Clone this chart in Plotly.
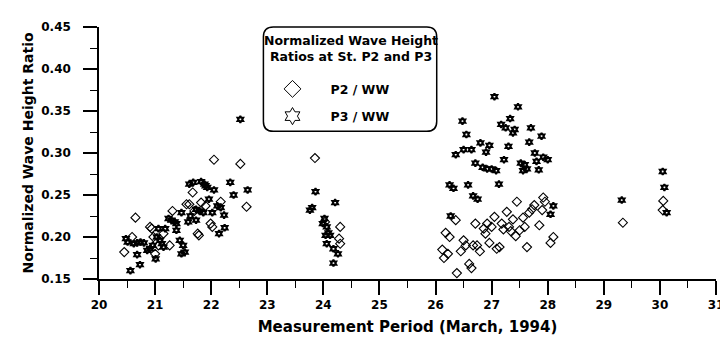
import plotly.graph_objects as go

# P2 / WW (open diamonds)
p2_day = [20.45, 20.59, 20.65, 20.91, 20.94, 20.97, 21.00, 21.06, 21.15, 21.26, 21.31, 21.56,
          21.61, 21.67, 21.70, 21.76, 21.78, 21.82, 21.90, 21.99, 22.02, 22.05, 22.17, 22.52, 22.63,
          23.85, 24.03, 24.28, 24.30, 24.30,
          26.12, 26.15, 26.18, 26.22, 26.25, 26.36, 26.38, 26.45, 26.50, 26.54, 26.60, 26.64,
          26.67, 26.71, 26.74, 26.79, 26.86, 26.89, 26.92, 26.96, 27.00, 27.05, 27.09, 27.14,
          27.18, 27.21, 27.27, 27.31, 27.34, 27.38, 27.43, 27.45, 27.50, 27.56, 27.59, 27.63,
          27.67, 27.72, 27.76, 27.85, 27.90, 27.92, 27.95, 28.05, 28.10,
          29.34, 30.05, 30.06]
p2_val = [0.182, 0.200, 0.223, 0.212, 0.210, 0.200, 0.180, 0.190, 0.204, 0.190, 0.231, 0.239,
          0.239, 0.253, 0.231, 0.204, 0.202, 0.241, 0.237, 0.216, 0.212, 0.292, 0.242, 0.287, 0.236,
          0.294, 0.218, 0.198, 0.212, 0.192,
          0.185, 0.175, 0.205, 0.180, 0.200, 0.220, 0.157, 0.183, 0.196, 0.190, 0.168, 0.163,
          0.190, 0.216, 0.190, 0.183, 0.210, 0.204, 0.216, 0.193, 0.212, 0.224, 0.186, 0.188,
          0.216, 0.209, 0.230, 0.212, 0.207, 0.221, 0.201, 0.242, 0.208, 0.223, 0.212, 0.188,
          0.229, 0.233, 0.238, 0.214, 0.232, 0.247, 0.242, 0.193, 0.200,
          0.217, 0.232, 0.243]

# P3 / WW (open stars)
p3_day = [20.48, 20.51, 20.56, 20.62, 20.68, 20.68, 20.73, 20.74, 20.80, 20.86, 20.91, 20.96,
          21.01, 21.03, 21.06, 21.09, 21.12, 21.15, 21.18, 21.24, 21.29, 21.35, 21.38, 21.38,
          21.44, 21.47, 21.47, 21.50, 21.53, 21.59, 21.61, 21.63, 21.68, 21.73, 21.73, 21.79,
          21.82, 21.86, 21.88, 21.90, 21.93, 21.96, 22.02, 22.05, 22.11, 22.14, 22.17, 22.23,
          22.24, 22.34, 22.40, 22.52, 22.65,
          23.76, 23.80, 23.86, 23.99, 24.02, 24.04, 24.06, 24.06, 24.09, 24.12, 24.18, 24.18,
          24.21, 24.26,
          26.25, 26.27, 26.32, 26.36, 26.48, 26.50, 26.55, 26.58, 26.64, 26.67, 26.71, 26.75,
          26.80, 26.84, 26.90, 26.92, 26.96, 27.00, 27.05, 27.08, 27.13, 27.17, 27.22, 27.25,
          27.30, 27.33, 27.38, 27.41, 27.47, 27.52, 27.56, 27.59, 27.63, 27.67, 27.70, 27.77,
          27.80, 27.84, 27.89, 27.92, 28.00, 28.05, 28.10,
          29.32, 30.05, 30.08, 30.12]
p3_val = [0.198, 0.194, 0.160, 0.192, 0.179, 0.193, 0.167, 0.194, 0.193, 0.184, 0.186, 0.190,
          0.174, 0.200, 0.210, 0.196, 0.192, 0.188, 0.210, 0.222, 0.220, 0.218, 0.216, 0.208,
          0.196, 0.180, 0.229, 0.190, 0.182, 0.218, 0.263, 0.225, 0.265, 0.233, 0.220, 0.231,
          0.266, 0.229, 0.263, 0.261, 0.259, 0.245, 0.229, 0.256, 0.237, 0.204, 0.235, 0.226,
          0.211, 0.265, 0.250, 0.340, 0.256,
          0.232, 0.235, 0.254, 0.216, 0.222, 0.202, 0.212, 0.192, 0.205, 0.202, 0.186, 0.169,
          0.241, 0.180,
          0.262, 0.225, 0.258, 0.298, 0.338, 0.304, 0.322, 0.262, 0.304, 0.249, 0.288, 0.245,
          0.312, 0.283, 0.301, 0.281, 0.309, 0.281, 0.367, 0.279, 0.263, 0.334, 0.292, 0.330,
          0.308, 0.341, 0.324, 0.328, 0.355, 0.288, 0.279, 0.286, 0.281, 0.313, 0.330, 0.300,
          0.290, 0.280, 0.320, 0.295, 0.292, 0.227, 0.237,
          0.244, 0.278, 0.259, 0.229]

x_ticks = [20, 21, 22, 23, 24, 25, 26, 27, 28, 29, 30, 31]
y_ticks = [0.15, 0.20, 0.25, 0.30, 0.35, 0.40, 0.45]
y_tick_text = ["0.15", "0.20", "0.25", "0.30", "0.35", "0.40", "0.45"]

FONT = "DejaVu Sans"

fig = go.Figure()
fig.add_trace(go.Scatter(x=p2_day, y=p2_val, mode="markers", showlegend=False,
                         marker=dict(symbol="diamond-open", size=7, color="black",
                                     line=dict(width=1.1, color="black"))))
fig.add_trace(go.Scatter(x=p3_day, y=p3_val, mode="markers", showlegend=False,
                         marker=dict(symbol="hexagram-open", size=5, color="black",
                                     line=dict(width=2, color="black"))))
# legend-only entries with larger symbols
fig.add_trace(go.Scatter(x=[None], y=[None], mode="markers", name="P2 / WW",
                         legendgroup="a",
                         marker=dict(symbol="diamond-open", size=13, color="black",
                                     line=dict(width=1, color="black"))))
fig.add_trace(go.Scatter(x=[None], y=[None], mode="markers", name="P3 / WW",
                         legendgroup="b",
                         marker=dict(symbol="hexagram-open", size=13, color="black",
                                     line=dict(width=1, color="black"))))

W, H = 728, 338
L, R, T, B = 91, 14, 15, 67
pw, ph = W - L - R, H - T - B

def px(xp):
    return (xp - L) / pw

def py(yp):
    return 1 - (yp - T) / ph

# rounded legend frame
x0, x1, y0, y1 = px(257), px(432), py(15), py(121)
rx, ry = 10 / pw, 10 / ph
path = (f"M {x0+rx},{y0} L {x1-rx},{y0} Q {x1},{y0} {x1},{y0-ry} "
        f"L {x1},{y1+ry} Q {x1},{y1} {x1-rx},{y1} L {x0+rx},{y1} "
        f"Q {x0},{y1} {x0},{y1+ry} L {x0},{y0-ry} Q {x0},{y0} {x0+rx},{y0} Z")
fig.add_shape(type="path", path=path, xref="paper", yref="paper",
              line=dict(color="black", width=1.5), layer="above")

fig.add_annotation(text="<b>Normalized Wave Height<br>Ratios at St. P2 and P3</b>",
                   xref="paper", yref="paper", x=px(345), y=py(37),
                   xanchor="center", yanchor="middle", showarrow=False, align="center",
                   font=dict(family=FONT, size=12.5, color="black"))

axis_common = dict(showgrid=False, zeroline=False, showline=True, linecolor="black",
                   linewidth=1.5, ticks="outside", ticklen=14, tickwidth=1.5,
                   tickcolor="black", mirror=False,
                   tickfont=dict(family=FONT, size=12, color="black", weight="bold"))

fig.update_xaxes(range=[20, 31], tickvals=x_ticks,
                 ticktext=[f"<b>{t}</b>" for t in x_ticks],
                 **axis_common,
                 minor=dict(ticks="outside", ticklen=7, tickwidth=1.2, dtick=0.5,
                            tickcolor="black", showgrid=False),
                 title=dict(text="<b>Measurement Period (March, 1994)</b>", standoff=10,
                            font=dict(family=FONT, size=15, color="black")))
fig.update_yaxes(range=[0.15, 0.45], tickvals=y_ticks,
                 ticktext=[f"<b>{t}</b>" for t in y_tick_text], **axis_common,
                 ticklabelstandoff=10,
                 minor=dict(ticks="outside", ticklen=7, tickwidth=1.2, dtick=0.025,
                            tickcolor="black", showgrid=False),
                 title=dict(text="<b>Normalized Wave Height Ratio</b>", standoff=4,
                            font=dict(family=FONT, size=14, color="black")))

fig.update_layout(
    width=W, height=H, margin=dict(l=L, r=R, t=T, b=B),
    paper_bgcolor="white", plot_bgcolor="white",
    font=dict(family=FONT, color="black", weight="bold"),
    legend=dict(x=px(248), y=py(63), xanchor="left", yanchor="top",
                bgcolor="rgba(0,0,0,0)", borderwidth=0,
                font=dict(family=FONT, size=12.5, color="black", weight="bold"),
                itemwidth=66, tracegroupgap=8),
)

fig.write_html("out.html")
